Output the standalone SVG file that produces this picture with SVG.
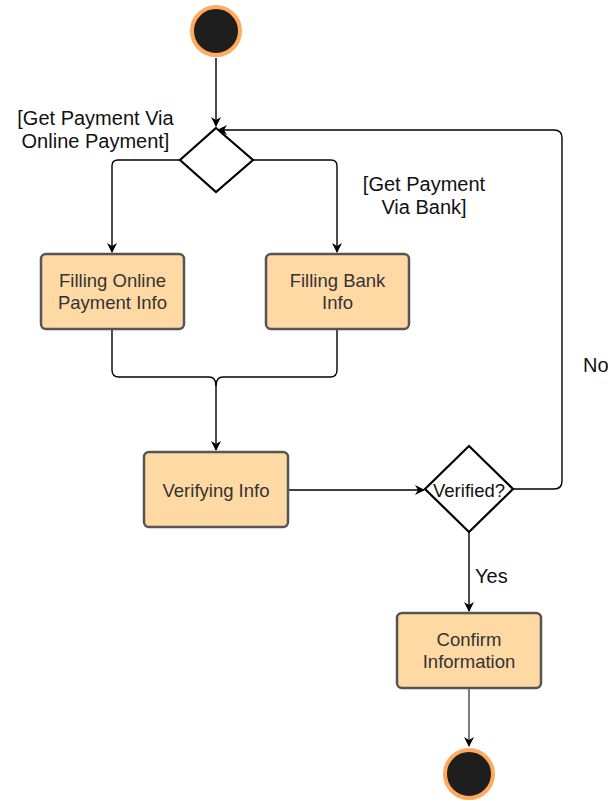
<svg xmlns="http://www.w3.org/2000/svg" width="608" height="801" viewBox="0 0 608 801">
  <style>
    .box { fill: #ffd9a3; stroke: #555555; stroke-width: 2.5; }
    .decision { fill: #ffffff; stroke: #000000; stroke-width: 2.2; }
    .terminal { fill: #1e1e1e; stroke: #ffaa5c; stroke-width: 4; }
    .edge { fill: none; stroke: #000000; stroke-width: 1.4; }
    .boxtext { font-family: "Liberation Sans", Arial, sans-serif; font-size: 18.5px; fill: #333333; text-anchor: middle; }
    .label { font-family: "Liberation Sans", Arial, sans-serif; font-size: 20px; fill: #111111; text-anchor: middle; }
  </style>
  <defs>
    <marker id="arrow" viewBox="0 0 10 10" refX="9" refY="5" markerWidth="10" markerHeight="10" markerUnits="userSpaceOnUse" orient="auto">
      <path d="M0,0 L10,5 L0,10 L3,5 Z" fill="#000000"/>
    </marker>
  </defs>

  <g id="connectors">
    <path class="edge" d="M216,58 V126" marker-end="url(#arrow)"/>
    <path class="edge" d="M180,160 H118 Q112,160 112,166 V252" marker-end="url(#arrow)"/>
    <path class="edge" d="M253,160 H331 Q337,160 337,166 V252" marker-end="url(#arrow)"/>
    <path class="edge" d="M112,329 V370 Q112,377 119,377 H209 Q216,377 216,386"/>
    <path class="edge" d="M337,329 V370 Q337,377 330,377 H223 Q216,377 216,386 V450" marker-end="url(#arrow)"/>
    <path class="edge" d="M288,490 H424" marker-end="url(#arrow)"/>
    <path class="edge" d="M513,489 H554 Q562,489 562,481 V138 Q562,130 554,130 H218" marker-end="url(#arrow)"/>
    <path class="edge" d="M469,532 V611" marker-end="url(#arrow)"/>
    <path class="edge" style="stroke:#444444" d="M469,688 V746" marker-end="url(#arrow)"/>
  </g>

  <g id="edge-labels">
    <text class="label"><tspan x="95.5" y="125">[Get Payment Via</tspan><tspan x="95.5" y="148">Online Payment]</tspan></text>
    <text class="label"><tspan x="424" y="191">[Get Payment</tspan><tspan x="424" y="214">Via Bank]</tspan></text>
    <text class="label" style="text-anchor:start" x="583" y="372">No</text>
    <text class="label" style="text-anchor:start" x="475" y="583">Yes</text>
  </g>

  <g id="start">
    <circle class="terminal" cx="216" cy="31" r="24"/>
  </g>

  <g id="payment-choice">
    <polygon class="decision" points="216,128 253,160 216,192 180,160"/>
  </g>

  <g id="filling-online">
    <rect class="box" x="41" y="254" width="143" height="75" rx="5"/>
    <text class="boxtext"><tspan x="112.5" y="287">Filling Online</tspan><tspan x="112.5" y="309">Payment Info</tspan></text>
  </g>

  <g id="filling-bank">
    <rect class="box" x="266" y="254" width="143" height="75" rx="5"/>
    <text class="boxtext"><tspan x="337.5" y="287">Filling Bank</tspan><tspan x="337.5" y="309">Info</tspan></text>
  </g>

  <g id="verifying-info">
    <rect class="box" x="144" y="452" width="144" height="75" rx="5"/>
    <text class="boxtext" x="216" y="497">Verifying Info</text>
  </g>

  <g id="verified">
    <polygon class="decision" points="469,446 513,489 469,532 425,489"/>
    <text class="boxtext" style="fill:#111111" x="469" y="497">Verified?</text>
  </g>

  <g id="confirm-information">
    <rect class="box" x="397" y="613" width="144" height="75" rx="5"/>
    <text class="boxtext"><tspan x="469" y="646">Confirm</tspan><tspan x="469" y="668">Information</tspan></text>
  </g>

  <g id="end">
    <circle class="terminal" cx="469" cy="774" r="24"/>
  </g>
</svg>
